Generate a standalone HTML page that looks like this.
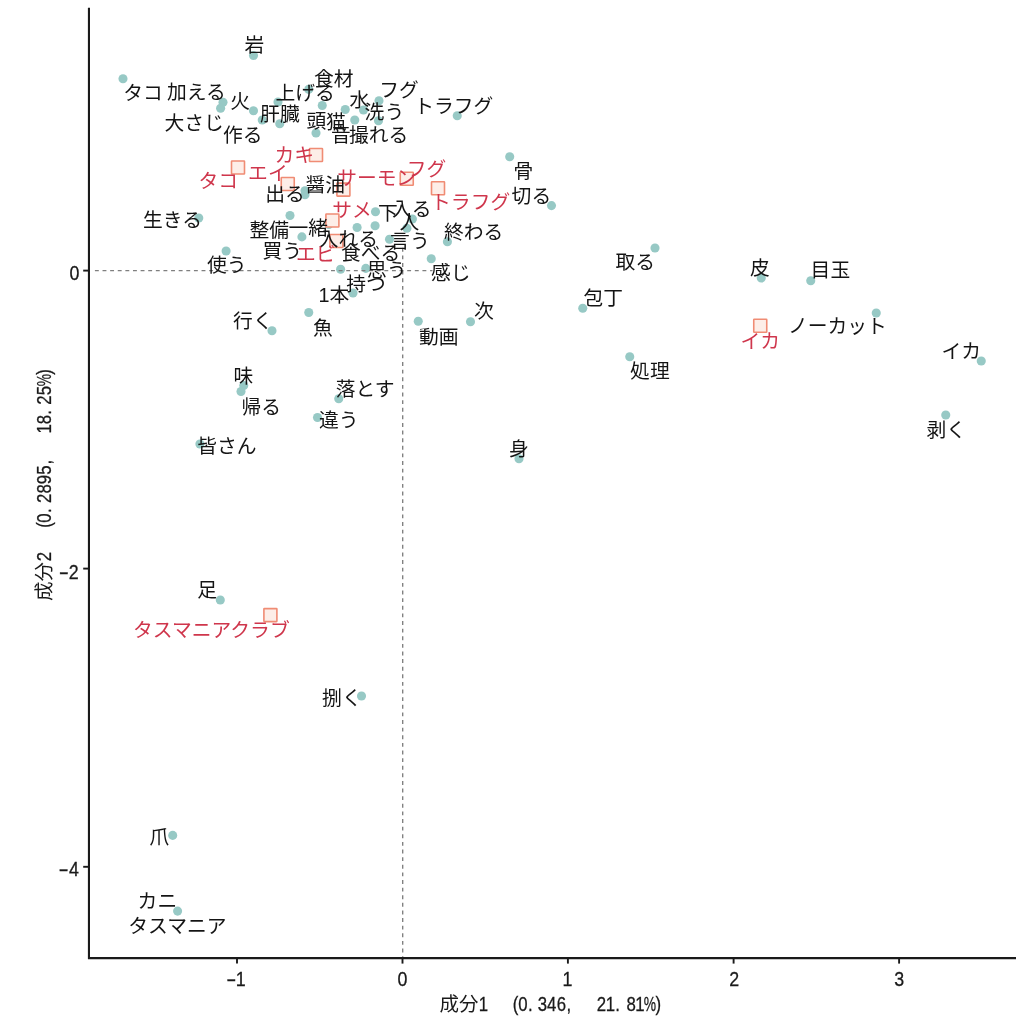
<!DOCTYPE html>
<html lang="ja"><head><meta charset="utf-8"><title>対応分析</title>
<style>html,body{margin:0;padding:0;background:#fff}svg{display:block;will-change:transform}text{font-family:"Liberation Sans", "Noto Sans CJK JP", sans-serif;}.w{font-size:19.8px;fill:#141414}.r{font-size:19.8px;fill:#cf364c}.ax{fill:#1a1a1a;stroke:#1a1a1a;stroke-width:.3px}</style></head><body>
<svg width="1024" height="1024" viewBox="0 0 1024 1024">
<rect width="1024" height="1024" fill="#fff"/>
<g fill="#97c9c5">
<circle cx="123" cy="78.75" r="4.55"/>
<circle cx="253.5" cy="55.5" r="4.55"/>
<circle cx="223" cy="102.3" r="4.55"/>
<circle cx="220.6" cy="108.3" r="4.55"/>
<circle cx="253.5" cy="110.75" r="4.55"/>
<circle cx="262.25" cy="120" r="4.55"/>
<circle cx="279.75" cy="123.75" r="4.55"/>
<circle cx="278" cy="102" r="4.55"/>
<circle cx="322.25" cy="105.5" r="4.55"/>
<circle cx="345.25" cy="109.5" r="4.55"/>
<circle cx="363.5" cy="110" r="4.55"/>
<circle cx="379" cy="100.75" r="4.55"/>
<circle cx="378.5" cy="120.75" r="4.55"/>
<circle cx="354.75" cy="120" r="4.55"/>
<circle cx="457.25" cy="115.75" r="4.55"/>
<circle cx="316" cy="133" r="4.55"/>
<circle cx="509.7" cy="156.8" r="4.55"/>
<circle cx="305" cy="190.8" r="4.55"/>
<circle cx="305" cy="194.8" r="4.55"/>
<circle cx="308.7" cy="89.4" r="4.55"/>
<circle cx="290" cy="215.5" r="4.55"/>
<circle cx="375.5" cy="211.75" r="4.55"/>
<circle cx="412.4" cy="219" r="4.55"/>
<circle cx="357.1" cy="227.5" r="4.55"/>
<circle cx="375.1" cy="225.75" r="4.55"/>
<circle cx="406.9" cy="228.25" r="4.55"/>
<circle cx="301.9" cy="236.9" r="4.55"/>
<circle cx="389.5" cy="239.25" r="4.55"/>
<circle cx="447.4" cy="241.75" r="4.55"/>
<circle cx="431.25" cy="258.75" r="4.55"/>
<circle cx="340.6" cy="269.3" r="4.55"/>
<circle cx="365.8" cy="268.4" r="4.55"/>
<circle cx="353" cy="293" r="4.55"/>
<circle cx="308.75" cy="312.5" r="4.55"/>
<circle cx="272" cy="330.75" r="4.55"/>
<circle cx="418.25" cy="321.25" r="4.55"/>
<circle cx="470.5" cy="321.75" r="4.55"/>
<circle cx="338.75" cy="398.75" r="4.55"/>
<circle cx="317.5" cy="417.5" r="4.55"/>
<circle cx="243.75" cy="385.5" r="4.55"/>
<circle cx="241" cy="391.5" r="4.55"/>
<circle cx="199.9" cy="444" r="4.55"/>
<circle cx="198.75" cy="218" r="4.55"/>
<circle cx="226.1" cy="251" r="4.55"/>
<circle cx="551.5" cy="205.6" r="4.55"/>
<circle cx="655" cy="248" r="4.55"/>
<circle cx="582.75" cy="308.25" r="4.55"/>
<circle cx="629.75" cy="356.75" r="4.55"/>
<circle cx="519" cy="458.75" r="4.55"/>
<circle cx="761.25" cy="278" r="4.55"/>
<circle cx="810.75" cy="280.75" r="4.55"/>
<circle cx="876.25" cy="313" r="4.55"/>
<circle cx="981.25" cy="361" r="4.55"/>
<circle cx="945.75" cy="415" r="4.55"/>
<circle cx="220.3" cy="600" r="4.55"/>
<circle cx="361.5" cy="696" r="4.55"/>
<circle cx="172.7" cy="835.4" r="4.55"/>
<circle cx="177.6" cy="911.1" r="4.55"/>
<circle cx="328.75" cy="224.5" r="4.55"/>
</g>
<g stroke="#7f7f7f" stroke-width="1.35" stroke-dasharray="3.9 3.717" fill="none">
<line x1="94.9" y1="270.55" x2="432.5" y2="270.55"/>
<line x1="402.7" y1="247.8" x2="402.7" y2="957"/>
</g>
<g fill="#fdeee8" stroke="#f08c74" stroke-width="1.6">
<rect x="231.5" y="161" width="13" height="13" rx="0.5"/>
<rect x="309.5" y="148.5" width="13" height="13" rx="0.5"/>
<rect x="281.25" y="177.5" width="13" height="13" rx="0.5"/>
<rect x="336.9" y="183.1" width="13" height="13" rx="0.5"/>
<rect x="400.25" y="172.25" width="13" height="13" rx="0.5"/>
<rect x="431.5" y="181.75" width="13" height="13" rx="0.5"/>
<rect x="325.9" y="214" width="13" height="13" rx="0.5"/>
<rect x="329.9" y="234.5" width="13" height="13" rx="0.5"/>
<rect x="753.75" y="319.25" width="13" height="13" rx="0.5"/>
<rect x="263.9" y="608.6" width="13" height="13" rx="0.5"/>
</g>
<g class="w">
<text x="244.55" y="52.4">岩</text>
<text x="123.25" y="99.62">タコ</text>
<text x="167" y="99.38">加える</text>
<text x="230.32" y="108.17">火</text>
<text x="164.5" y="130">大さじ</text>
<text x="223" y="141.5">作る</text>
<text x="275.38" y="100">上げる</text>
<text x="314" y="85.5">食材</text>
<text x="379.25" y="96.62">フグ</text>
<text x="349.48" y="107.4">水</text>
<text x="364.62" y="119.25">洗う</text>
<text x="414.25" y="112.62">トラフグ</text>
<text x="260.12" y="121">肝臓</text>
<text x="306.43" y="128.12">頭</text>
<text x="325.9" y="128.5">猫</text>
<text x="331.05" y="142.2">音</text>
<text x="349" y="142.2">撮れる</text>
<text x="513.38" y="177.88">骨</text>
<text x="511.62" y="203">切る</text>
<text x="143" y="227.25">生きる</text>
<text x="305.4" y="192.1">醤油</text>
<text x="265.25" y="200.6">出る</text>
<text x="377.98" y="219.88">下</text>
<text x="391.9" y="216.2">入る</text>
<text x="399.43" y="229.25">人</text>
<text x="443.93" y="239.28">終わる</text>
<text x="249.57" y="236.5">整備</text>
<text x="288.43" y="234.5">一緒</text>
<text x="318.65" y="245.72">入れる</text>
<text x="390.12" y="247.9">言う</text>
<text x="262.55" y="258.12">買う</text>
<text x="340.93" y="259.5">食べる</text>
<text x="206.88" y="272">使う</text>
<text x="367" y="277.25">思う</text>
<text x="431" y="280.25">感じ</text>
<text x="346.25" y="290.75">持つ</text>
<text x="318.62" y="302">1本</text>
<text x="233.12" y="328.1">行く</text>
<text x="312.88" y="334.62">魚</text>
<text x="418.88" y="343.62">動画</text>
<text x="473.88" y="318">次</text>
<text x="615.5" y="268.62">取る</text>
<text x="583.38" y="304.62">包丁</text>
<text x="630.12" y="377.5">処理</text>
<text x="750.12" y="275">皮</text>
<text x="810.62" y="277.38">目玉</text>
<text x="787.88" y="333.25">ノーカット</text>
<text x="941.5" y="357.5">イカ</text>
<text x="926.5" y="436.62">剥く</text>
<text x="509" y="455.62">身</text>
<text x="233.5" y="383.1">味</text>
<text x="241.5" y="413.75">帰る</text>
<text x="197.25" y="453">皆さん</text>
<text x="335.75" y="395.5">落とす</text>
<text x="319" y="426.88">違う</text>
<text x="197.32" y="597">足</text>
<text x="322.12" y="705.3">捌く</text>
<text x="149.5" y="844.25">爪</text>
<text x="137.62" y="908.25">カニ</text>
<text x="128.3" y="932.62">タスマニア</text>
</g>
<g class="r">
<text x="198.5" y="187.62">タコ</text>
<text x="274.43" y="161.88">カキ</text>
<text x="248.1" y="180.2">エイ</text>
<text x="337.25" y="185.38">サーモン</text>
<text x="406.75" y="176.38">フグ</text>
<text x="431.07" y="208.82">トラフグ</text>
<text x="332.32" y="217.12">サメ</text>
<text x="295.88" y="261.27">エビ</text>
<text x="740.38" y="347.5">イカ</text>
<text x="133" y="637.12">タスマニアクラブ</text>
</g>
<g stroke="#1a1a1a" stroke-width="2.1" fill="none">
<path d="M88.95 7.8V958.15H1016"/>
</g>
<g stroke="#1a1a1a" stroke-width="1.9" fill="none">
<line x1="237" y1="958" x2="237" y2="963.6"/>
<line x1="402.5" y1="958" x2="402.5" y2="963.6"/>
<line x1="567.9" y1="958" x2="567.9" y2="963.6"/>
<line x1="733.6" y1="958" x2="733.6" y2="963.6"/>
<line x1="899.1" y1="958" x2="899.1" y2="963.6"/>
<line x1="83.2" y1="270.6" x2="89" y2="270.6"/>
<line x1="83.2" y1="568.6" x2="89" y2="568.6"/>
<line x1="83.2" y1="866.8" x2="89" y2="866.8"/>
</g>
<text class="ax" transform="translate(0,1011.1) scale(0.8,1)" text-anchor="middle" font-size="21"><tspan x="573.88" font-size="19.5" stroke="none" textLength="48.75" lengthAdjust="spacingAndGlyphs">成分</tspan><tspan x="604.38 621.25 644.5 653.56 662.94 678 689.5 701.81 711 730 751.81 763.12 771.94 788.88 799.87">1 (0.346, 21.81</tspan><tspan x="812.37" textLength="15.39" lengthAdjust="spacingAndGlyphs">%</tspan><tspan x="822.87">)</tspan></text>
<text class="ax" transform="translate(51.1,0) rotate(-90) scale(0.8,1)" text-anchor="middle" font-size="21"><tspan x="-726.94" font-size="19.5" stroke="none" textLength="48.75" lengthAdjust="spacingAndGlyphs">成分</tspan><tspan x="-695.69 -675 -656.12 -647.69 -638.31 -622.88 -611.12 -599.62 -587.62 -577.75 -557.5 -535.94 -524.62 -515.5 -500 -488.31">2 (0.2895, 18.25</tspan><tspan x="-475.25" textLength="15.39" lengthAdjust="spacingAndGlyphs">%</tspan><tspan x="-464.87">)</tspan></text>
<text class="ax" transform="translate(0,986) scale(0.85,1)" text-anchor="middle" font-size="21"><tspan x="272.12" textLength="11.93" lengthAdjust="spacingAndGlyphs">-</tspan><tspan x="283.29">1</tspan></text>
<text class="ax" transform="translate(0,986) scale(0.85,1)" text-anchor="middle" font-size="21"><tspan x="473.41">0</tspan></text>
<text class="ax" transform="translate(0,986) scale(0.85,1)" text-anchor="middle" font-size="21"><tspan x="667.65">1</tspan></text>
<text class="ax" transform="translate(0,986) scale(0.85,1)" text-anchor="middle" font-size="21"><tspan x="863.76">2</tspan></text>
<text class="ax" transform="translate(0,986) scale(0.85,1)" text-anchor="middle" font-size="21"><tspan x="1058">3</tspan></text>
<text class="ax" transform="translate(0,279.9) scale(0.85,1)" text-anchor="middle" font-size="21"><tspan x="87.53">0</tspan></text>
<text class="ax" transform="translate(0,578.6) scale(0.85,1)" text-anchor="middle" font-size="21"><tspan x="75" textLength="11.93" lengthAdjust="spacingAndGlyphs">-</tspan><tspan x="86.76">2</tspan></text>
<text class="ax" transform="translate(0,876.3) scale(0.85,1)" text-anchor="middle" font-size="21"><tspan x="74.82" textLength="11.93" lengthAdjust="spacingAndGlyphs">-</tspan><tspan x="86.94">4</tspan></text>
</svg></body></html>
